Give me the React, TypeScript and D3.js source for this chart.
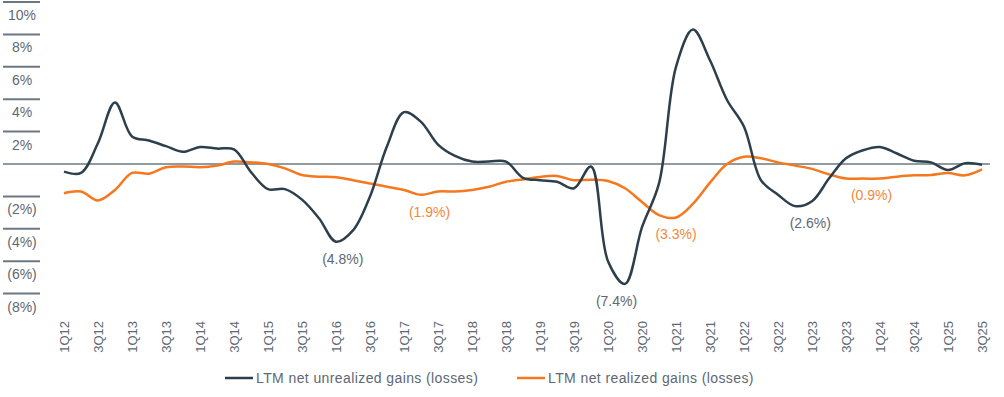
import React from 'react';
import { scaleLinear, line, curveCatmullRom } from 'd3';

// quarterly points, 1Q12 .. 3Q25
const quarters = [
  '1Q12', '2Q12', '3Q12', '4Q12', '1Q13', '2Q13', '3Q13', '4Q13',
  '1Q14', '2Q14', '3Q14', '4Q14', '1Q15', '2Q15', '3Q15', '4Q15',
  '1Q16', '2Q16', '3Q16', '4Q16', '1Q17', '2Q17', '3Q17', '4Q17',
  '1Q18', '2Q18', '3Q18', '4Q18', '1Q19', '2Q19', '3Q19', '4Q19',
  '1Q20', '2Q20', '3Q20', '4Q20', '1Q21', '2Q21', '3Q21', '4Q21',
  '1Q22', '2Q22', '3Q22', '4Q22', '1Q23', '2Q23', '3Q23', '4Q23',
  '1Q24', '2Q24', '3Q24', '4Q24', '1Q25', '2Q25', '3Q25',
];

// LTM net unrealized gains (losses), %
const unrealized = [
  -0.47, -0.55, 1.3, 3.8, 1.7, 1.45, 1.1, 0.75,
  1.05, 0.95, 0.9, -0.5, -1.55, -1.55, -2.2, -3.35,
  -4.8, -4.1, -2.0, 1.1, 3.2, 2.6, 1.2, 0.5,
  0.15, 0.15, 0.15, -0.85, -1.0, -1.1, -1.5, -0.15,
  -6.0, -7.4, -3.9, -1.2, 6.0, 8.3, 6.4, 3.95,
  2.3, -1.0, -1.9, -2.6, -2.3, -0.9, 0.35, 0.85,
  1.05, 0.65, 0.2, 0.1, -0.37, 0.05, -0.05,
];

// LTM net realized gains (losses), %
const realized = [
  -1.8, -1.7, -2.25, -1.6, -0.55, -0.6, -0.2, -0.15,
  -0.2, -0.1, 0.15, 0.1, 0.0, -0.27, -0.68, -0.78,
  -0.82, -1.0, -1.2, -1.4, -1.6, -1.9, -1.7, -1.7,
  -1.6, -1.4, -1.1, -0.95, -0.8, -0.74, -1.0, -0.97,
  -1.05, -1.5, -2.35, -3.15, -3.3, -2.45, -1.15, 0.0,
  0.45, 0.35, 0.1, -0.1, -0.3, -0.64, -0.9, -0.9,
  -0.9, -0.78, -0.7, -0.68, -0.56, -0.7, -0.33,
];

const yTicks = [10, 8, 6, 4, 2, -2, -4, -6, -8];

// callouts: [quarter index, value, series]
const callouts = [
  { at: 16.4, value: -4.8, series: 'unrealized' },
  { at: 21.5, value: -1.9, series: 'realized' },
  { at: 32.5, value: -7.4, series: 'unrealized' },
  { at: 36, value: -3.3, series: 'realized' },
  { at: 43.9, value: -2.6, series: 'unrealized' },
  { at: 47.5, value: -0.9, series: 'realized' },
];

const DARK = '#2e3f4c';
const ORANGE = '#f5781f';
const TEXT = '#5d6873';
const FONT = '"Liberation Sans", Arial, sans-serif';

const fmt = (v: number) => (v < 0 ? `(${Math.abs(v)}%)` : `${v}%`);

export default function App() {
  const width = 1004;
  const height = 397;

  const x = scaleLinear().domain([0, quarters.length - 1]).range([64, 982]);
  const y = scaleLinear().domain([-8, 10]).range([293.6, 2]);

  const path = line<number>()
    .x((d, i) => x(i))
    .y((d) => y(d))
    .curve(curveCatmullRom.alpha(0.5));

  return (
    <svg
      width={width}
      height={height}
      style={{ position: 'absolute', left: 0, top: 0, background: '#fff' }}
      fontFamily={FONT}
    >
      {/* y ticks: short rule with label under it */}
      {yTicks.map((t) => (
        <g key={t}>
          <line x1={3} x2={40} y1={y(t)} y2={y(t)} stroke="#6c7782" strokeWidth={2} />
          <text x={22} y={y(t) + 18} textAnchor="middle" fontSize={14} fill={TEXT}>
            {fmt(t)}
          </text>
        </g>
      ))}

      {/* zero line */}
      <line x1={3} x2={990} y1={y(0)} y2={y(0)} stroke="#6c7782" strokeWidth={1.5} />

      {/* x labels every other quarter */}
      {quarters.map((q, i) =>
        i % 2 === 0 ? (
          <text
            key={q}
            transform={`translate(${x(i)},321) rotate(-90)`}
            textAnchor="end"
            dy="0.35em"
            fontSize={13}
            fill={TEXT}
          >
            {q}
          </text>
        ) : null
      )}

      <path d={path(realized) || ''} fill="none" stroke={ORANGE} strokeWidth={2.5} />
      <path d={path(unrealized) || ''} fill="none" stroke={DARK} strokeWidth={2.5} />

      {callouts.map((c) => (
        <text
          key={c.value}
          x={x(c.at)}
          y={y(c.value) + 17}
          dy="0.35em"
          textAnchor="middle"
          fontSize={14}
          fill={c.series === 'realized' ? '#f4873a' : TEXT}
        >
          {fmt(c.value)}
        </text>
      ))}

      {/* legend */}
      <line x1={225} x2={253} y1={378} y2={378} stroke={DARK} strokeWidth={2.5} />
      <text x={256} y={378} dy="0.35em" fontSize={14} letterSpacing={0.4} fill={TEXT}>
        LTM net unrealized gains (losses)
      </text>
      <line x1={517} x2={545} y1={378} y2={378} stroke={ORANGE} strokeWidth={2.5} />
      <text x={548} y={378} dy="0.35em" fontSize={14} letterSpacing={0.4} fill={TEXT}>
        LTM net realized gains (losses)
      </text>
    </svg>
  );
}
